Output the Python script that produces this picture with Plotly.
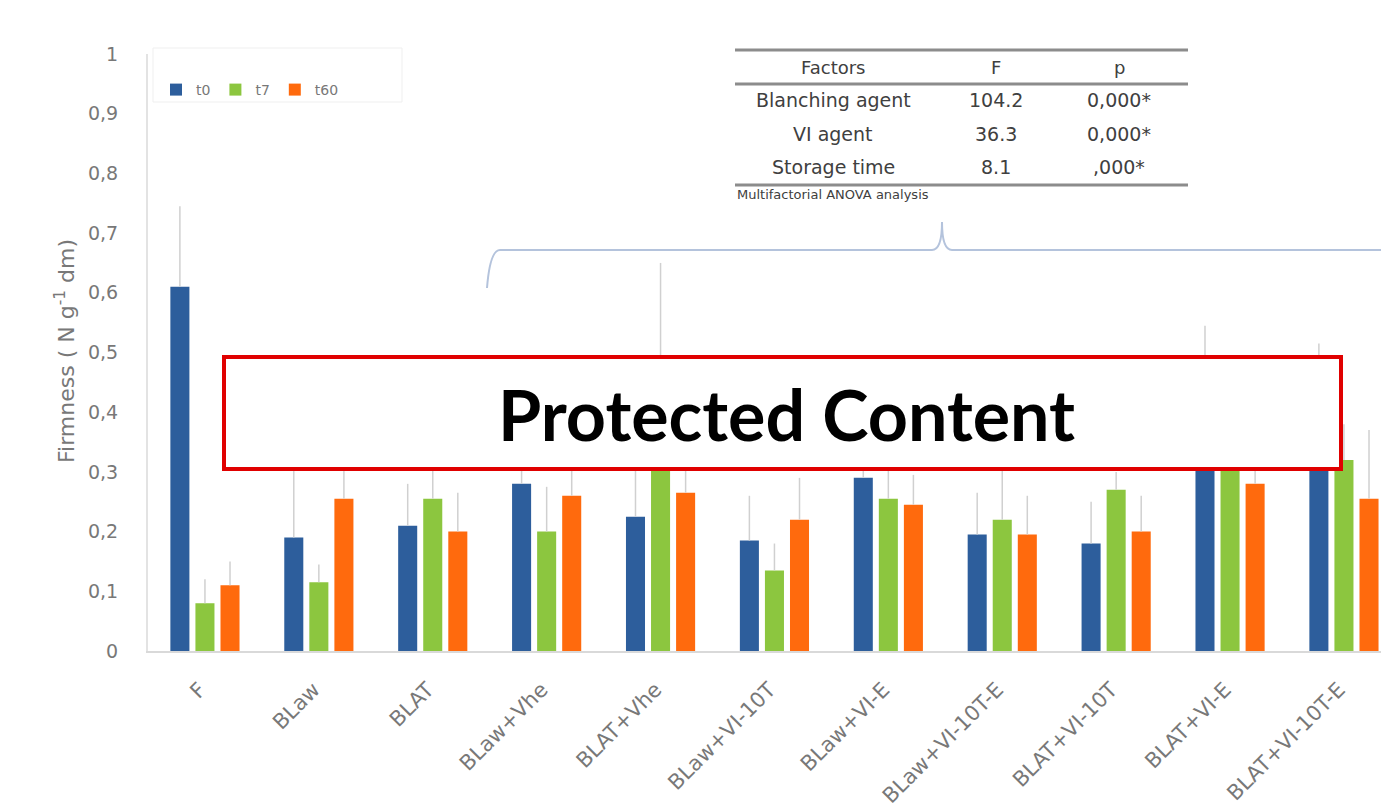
import plotly.graph_objects as go

# Treatments on the x axis
treatments = ["F", "BLaw", "BLAT", "BLaw+Vhe", "BLAT+Vhe", "BLaw+VI-10T", "BLaw+VI-E",
              "BLaw+VI-10T-E", "BLAT+VI-10T", "BLAT+VI-E", "BLAT+VI-10T-E"]

# Firmness (N g-1 dm) at each storage time
t0 = [0.61, 0.19, 0.21, 0.28, 0.225, 0.185, 0.29, 0.195, 0.18, 0.40, 0.37]
t7 = [0.08, 0.115, 0.255, 0.20, 0.36, 0.135, 0.255, 0.22, 0.27, 0.34, 0.32]
t60 = [0.11, 0.255, 0.20, 0.26, 0.265, 0.22, 0.245, 0.195, 0.20, 0.28, 0.255]

# Standard deviations
sd_t0 = [0.135, 0.14, 0.07, 0.07, 0.09, 0.075, 0.07, 0.07, 0.07, 0.145, 0.145]
sd_t7 = [0.04, 0.03, 0.07, 0.075, 0.29, 0.045, 0.07, 0.09, 0.03, 0.07, 0.06]
sd_t60 = [0.04, 0.08, 0.065, 0.06, 0.06, 0.07, 0.05, 0.065, 0.06, 0.06, 0.115]

# ANOVA summary table
factors = ["Blanching agent", "VI agent", "Storage time"]
f_values = ["104.2", "36.3", "8.1"]
p_values = ["0,000*", "0,000*", ",000*"]

y_ticks = [0, 0.1, 0.2, 0.3, 0.4, 0.5, 0.6, 0.7, 0.8, 0.9, 1]
y_tick_text = ["0", "0,1", "0,2", "0,3", "0,4", "0,5", "0,6", "0,7", "0,8", "0,9", "1"]

W, H = 1381, 808
L, R, T, B = 148, 1381, 54, 651

def px(x):
    return (x - L) / (R - L)

def py(y):
    return (B - y) / (B - T)

GRAY = "#787878"
FONT = "DejaVu Sans"
fig = go.Figure()
for name, vals, sd, col in [("t0", t0, sd_t0, "#2D5E9C"),
                            ("t7", t7, sd_t7, "#8CC63F"),
                            ("t60", t60, sd_t60, "#FF6A0D")]:
    fig.add_trace(go.Bar(
        x=list(range(len(treatments))), y=vals, name=name, marker=dict(color=col, line=dict(width=0)),
        error_y=dict(type="data", array=sd, arrayminus=[0] * len(sd), symmetric=False,
                     color="#D0D0D0", thickness=1.5, width=0),
    ))

shapes = []
annotations = []

def note(x, y, text, size, color="#404040", xanchor="center", **kw):
    annotations.append(dict(x=px(x), y=py(y), xref="paper", yref="paper", text=text, showarrow=False,
                            xanchor=xanchor, yanchor="middle",
                            font=dict(size=size, color=color, family=kw.pop("family", FONT)), **kw))

# legend frame
shapes.append(dict(type="rect", xref="paper", yref="paper", x0=px(153), x1=px(402), y0=py(102), y1=py(48),
                   line=dict(color="#EFEFEF", width=1), fillcolor="rgba(0,0,0,0)"))

# ANOVA table rules
tx0, tx1 = 735, 1188
for yy in [50, 84, 185]:
    shapes.append(dict(type="line", xref="paper", yref="paper", x0=px(tx0), x1=px(tx1), y0=py(yy), y1=py(yy),
                       line=dict(color="#8C8C8C", width=3)))
col_x = [833, 996, 1119]
row_y = [68, 100, 134, 167]
header = ["Factors", "F", "p"]
for cx, h in zip(col_x, header):
    note(cx, row_y[0], h, 18)
for i in range(len(factors)):
    for cx, txt in zip(col_x, [factors[i], f_values[i], p_values[i]]):
        note(cx, row_y[i + 1], txt, 19)
note(735, 194, "Multifactorial ANOVA analysis", 13, xanchor="left")

# brace linking the table to the treated samples
path = ("M {a},{b} Q {c},{d} {e},{d} L {f},{d} Q {g},{d} {g},{h} Q {g},{d} {i},{d} L {j},{d}").format(
    a=px(487), b=py(288), c=px(490), d=py(250), e=px(500), f=px(932), g=px(942), h=py(222),
    i=px(952), j=px(1400))
shapes.append(dict(type="path", xref="paper", yref="paper", path=path,
                   line=dict(color="#B4C3DC", width=2)))

# protected content banner
shapes.append(dict(type="rect", xref="paper", yref="paper", x0=px(224), x1=px(1341), y0=py(469), y1=py(357),
                   line=dict(color="#E00000", width=4), fillcolor="white", layer="above"))
note(786, 414, "<b>Protected Content</b>", 70, color="black", family="Lato")

# y axis title
note(65, 351, "Firmness ( N g<sup>-1</sup> dm)", 22, color=GRAY, textangle=-90)

fig.update_layout(
    width=W, height=H,
    margin=dict(l=L, r=W - R, t=T, b=H - B),
    paper_bgcolor="white", plot_bgcolor="white",
    barmode="group", bargap=0.34, bargroupgap=0.24,
    showlegend=True,
    legend=dict(orientation="h", x=px(156), y=py(74), xanchor="left", yanchor="top",
                font=dict(size=14, color=GRAY, family=FONT),
                itemwidth=30, tracegroupgap=0, bgcolor="rgba(0,0,0,0)"),
    xaxis=dict(range=[-0.5, (R - L) / 113.9 - 0.5], tickvals=list(range(len(treatments))), ticktext=treatments,
               tickangle=-45, showline=True, linecolor="#D9D9D9", linewidth=2, ticks="",
               showgrid=False, zeroline=False, ticklabelstandoff=16, ticklabelshift=-5,
               tickfont=dict(size=21, color=GRAY, family=FONT)),
    yaxis=dict(range=[0, 1], tickvals=y_ticks, ticktext=y_tick_text, showline=True, linecolor="#E3E3E3",
               linewidth=2, ticks="", showgrid=False, zeroline=False, ticklabelstandoff=24,
               tickfont=dict(size=19, color=GRAY, family=FONT)),
    shapes=shapes, annotations=annotations,
)

fig.write_html("out.html")
